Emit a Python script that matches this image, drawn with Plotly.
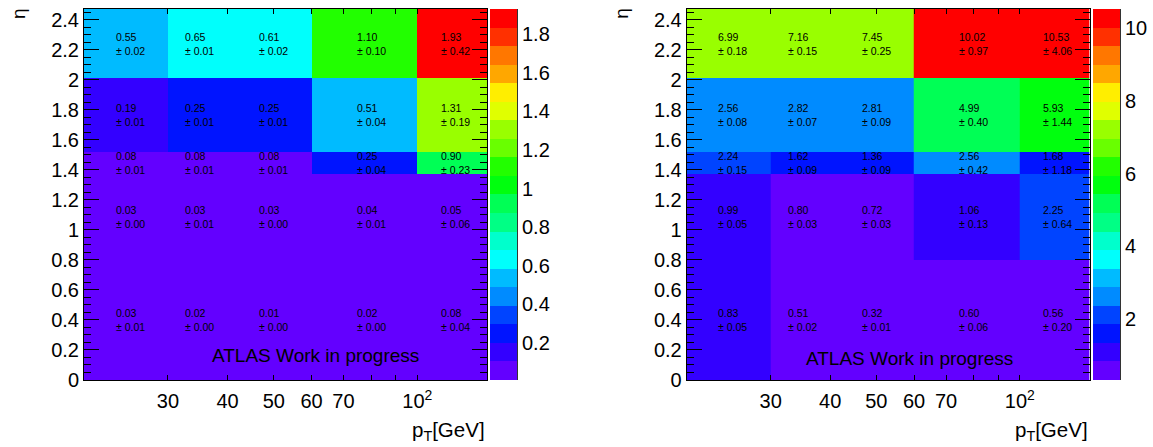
import colorsys
import numpy as np
import plotly.graph_objects as go

# ---------------- data ----------------
pt_edges = [20, 30, 40, 60, 100, 140]
eta_edges = [0.0, 0.8, 1.37, 1.52, 2.01, 2.47]

# rows: eta bins (bottom -> top), columns: pT bins (left -> right)
left_vals = [
    [0.03, 0.02, 0.01, 0.02, 0.08],
    [0.03, 0.03, 0.03, 0.04, 0.05],
    [0.08, 0.08, 0.08, 0.25, 0.90],
    [0.19, 0.25, 0.25, 0.51, 1.31],
    [0.55, 0.65, 0.61, 1.10, 1.93],
]
left_errs = [
    [0.01, 0.00, 0.00, 0.00, 0.04],
    [0.00, 0.01, 0.00, 0.01, 0.06],
    [0.01, 0.01, 0.01, 0.04, 0.23],
    [0.01, 0.01, 0.01, 0.04, 0.19],
    [0.02, 0.01, 0.02, 0.10, 0.42],
]
right_vals = [
    [0.83, 0.51, 0.32, 0.60, 0.56],
    [0.99, 0.80, 0.72, 1.06, 2.25],
    [2.24, 1.62, 1.36, 2.56, 1.68],
    [2.56, 2.82, 2.81, 4.99, 5.93],
    [6.99, 7.16, 7.45, 10.02, 10.53],
]
right_errs = [
    [0.05, 0.02, 0.01, 0.06, 0.20],
    [0.05, 0.03, 0.03, 0.13, 0.64],
    [0.15, 0.09, 0.09, 0.42, 1.18],
    [0.08, 0.07, 0.09, 0.40, 1.44],
    [0.18, 0.15, 0.25, 0.97, 4.06],
]
x_tickvals = [30, 40, 50, 60, 70, 100]
x_ticktext = ["30", "40", "50", "60", "70", "10<sup>2</sup>"]
x_minorvals = [80, 90]

FONT = "Liberation Sans, Arial, Helvetica, sans-serif"
W, H = 1153, 447

# ---------------- ROOT "pretty" palette, 20 contours ----------------
def root_palette():
    cols = []
    for i in range(50):
        hue = 280 - (i + 1) * 280 / 50
        r, g, b = colorsys.hls_to_rgb(max(hue, 0) / 360.0, 0.5, 1.0)
        cols.append("rgb(%d,%d,%d)" % (round(r * 255), round(g * 255), round(b * 255)))
    return cols

pal = root_palette()
NDIV = 20
band_cols = [pal[min(int((j + 0.99) * 50 / NDIV), 49)] for j in range(NDIV)]
cscale = []
for j, c in enumerate(band_cols):
    cscale.append([j / NDIV, c])
    cscale.append([(j + 1) / NDIV, c])

def zrange(vals):
    a = np.array(vals)
    zmin, zmax = a.min(), a.max()
    return zmin - 0.01 * (zmax - zmin) / NDIV, zmax

# ---------------- geometry (pixels) ----------------
def px_x(p):
    return p / W

def px_y(p):  # p measured from top
    return 1 - p / H

x1_dom = [px_x(84), px_x(487)]
x2_dom = [px_x(686.7), px_x(1089.5)]
y_dom = [px_y(380), px_y(9)]

fig = go.Figure()

panels = [
    ("x", "y", "y3", left_vals, left_errs, 490, 0.2),
    ("x2", "y2", "y4", right_vals, right_errs, 1093, 2),
]

axis_font = dict(family=FONT, size=20, color="black")
annotations = []
extra_axes = {}
for xa, ya, za, vals, errs, cbx, cbdt in panels:
    zmin, zmax = zrange(vals)
    fig.add_trace(go.Heatmap(
        x=pt_edges, y=eta_edges, z=vals, xaxis=xa, yaxis=ya,
        zmin=zmin, zmax=zmax, colorscale=cscale, hoverinfo="skip",
        colorbar=dict(
            x=px_x(cbx), xanchor="left", xpad=0, ypad=0,
            y=(y_dom[0] + y_dom[1]) / 2, yanchor="middle",
            len=371, lenmode="pixels", thickness=27, thicknessmode="pixels",
            outlinewidth=0, ticks="", showticklabels=False,
        ),
    ))
    # empty helper trace so that the palette axis gets drawn
    fig.add_trace(go.Scatter(x=[], y=[], xaxis=xa, yaxis=za, mode="markers",
                             hoverinfo="skip", showlegend=False))
    # palette axis drawn on the right edge of the colour bar
    extra_axes["yaxis" + za[1:]] = dict(
        overlaying=ya, anchor="free", position=px_x(cbx + 27), side="right",
        range=[zmin, zmax], tickmode="linear", tick0=0, dtick=cbdt,
        ticks="inside", ticklen=14, tickwidth=1, tickcolor="black",
        showline=True, linecolor="#333333", linewidth=1, showgrid=False,
        zeroline=False, automargin=False, ticklabelstandoff=0,
        tickfont=axis_font,
    )
    for i in range(len(eta_edges) - 1):
        yc = (eta_edges[i] + eta_edges[i + 1]) / 2
        for k in range(len(pt_edges) - 1):
            xc = (pt_edges[k] + pt_edges[k + 1]) / 2
            annotations.append(dict(
                x=np.log10(xc), y=yc, xref=xa, yref=ya,
                text="%.2f<br>± %.2f" % (vals[i][k], errs[i][k]),
                showarrow=False, align="left", xanchor="center", yanchor="middle",
                font=dict(family=FONT, size=10.5, color="black"),
            ))

axis_common = dict(
    showline=True, linecolor="black", linewidth=1, mirror="allticks",
    ticks="inside", tickcolor="black", showgrid=False, zeroline=False,
    automargin=False, layer="above traces", tickfont=axis_font,
)
xaxis_cfg = dict(
    type="log", range=[np.log10(pt_edges[0]), np.log10(pt_edges[-1])],
    tickmode="array", tickvals=x_tickvals, ticktext=x_ticktext, ticklen=5,
    minor=dict(tickmode="array", tickvals=x_minorvals, ticklen=5, ticks="inside",
               tickcolor="black"),
    ticklabelstandoff=3, **axis_common,
)
yaxis_cfg = dict(
    range=[eta_edges[0], eta_edges[-1]], tickmode="linear", tick0=0, dtick=0.2,
    ticklen=15, minor=dict(dtick=0.05, ticklen=7, ticks="inside", tickcolor="black"),
    ticklabelstandoff=0, **axis_common,
)

# titles and labels
for xdom, xa, atlas_x, atlas_y in [(x1_dom, "x", 0.3127, 0.066), (x2_dom, "x2", 0.291, 0.057)]:
    annotations.append(dict(
        x=px_x(18.5) + (xdom[0] - x1_dom[0]), y=px_y(13.5), xref="paper", yref="paper",
        text="η", textangle=-90, showarrow=False, xanchor="center", yanchor="middle",
        font=dict(family=FONT, size=19, color="black"),
    ))
    annotations.append(dict(
        x=xdom[1], y=px_y(431), xref="paper", yref="paper",
        text="p<sub>T</sub>[GeV]", showarrow=False, xanchor="right", yanchor="middle",
        font=dict(family=FONT, size=20.5, color="black"),
    ))
    annotations.append(dict(
        x=atlas_x, y=atlas_y, xref=xa + " domain", yref=("y" if xa == "x" else "y2") + " domain",
        text="ATLAS Work in progress", showarrow=False, xanchor="left", yanchor="middle",
        font=dict(family=FONT, size=19, color="black"),
    ))

fig.update_layout(
    width=W, height=H, margin=dict(l=0, r=0, t=0, b=0, autoexpand=False),
    paper_bgcolor="white", plot_bgcolor="white", showlegend=False,
    xaxis=dict(domain=x1_dom, anchor="y", **xaxis_cfg),
    yaxis=dict(domain=y_dom, anchor="x", **yaxis_cfg),
    xaxis2=dict(domain=x2_dom, anchor="y2", **xaxis_cfg),
    yaxis2=dict(domain=y_dom, anchor="x2", **yaxis_cfg),
    annotations=annotations,
    **extra_axes,
)

fig.write_html(
    "out.html",
    config={"displayModeBar": False},
    post_script="document.body.style.margin='0';document.body.style.padding='0';",
)
